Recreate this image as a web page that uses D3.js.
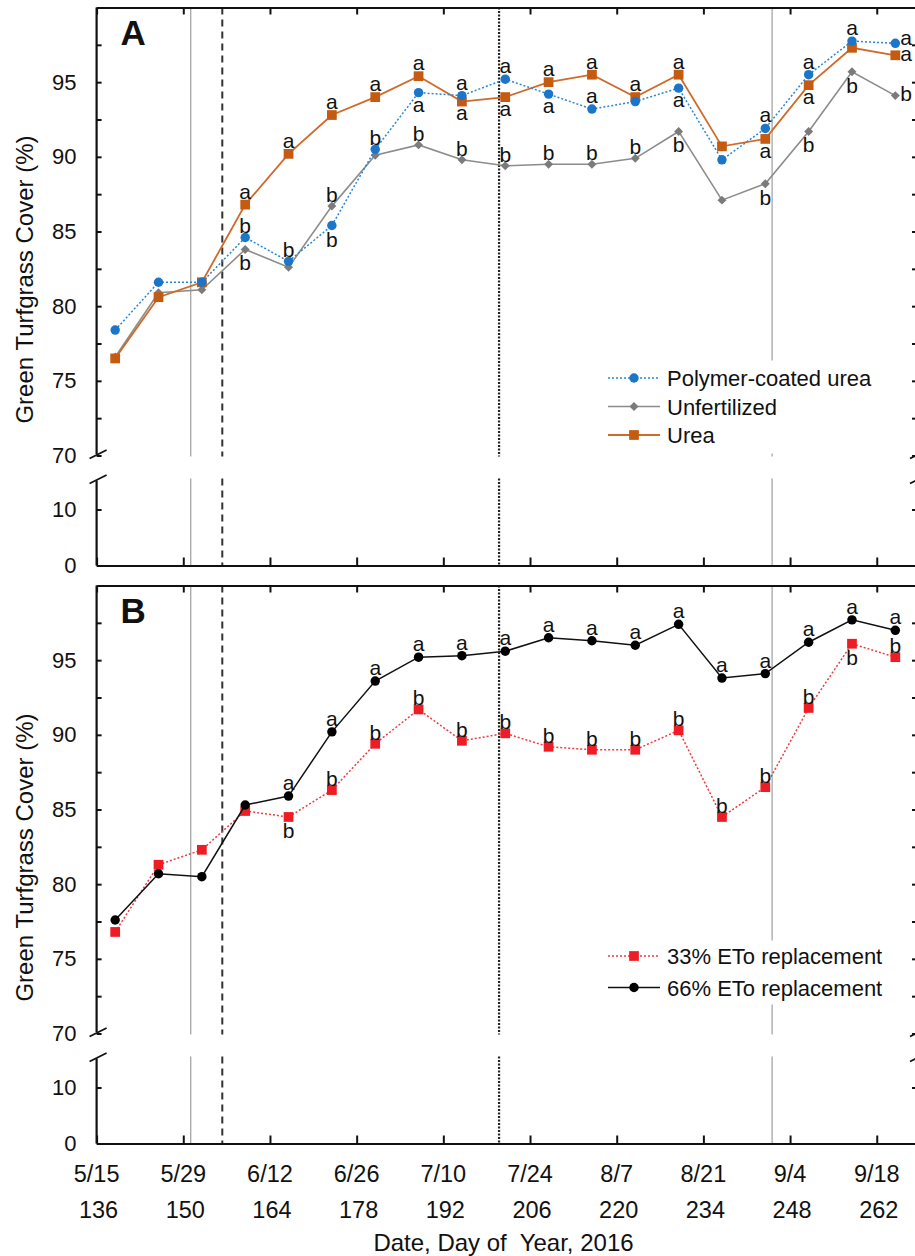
<!DOCTYPE html>
<html lang="en">
<head>
<meta charset="UTF-8">
<title>Green Turfgrass Cover 2016</title>
<script src="https://d3js.org/d3.v7.min.js"></script>
<style>
  body { margin: 0; background: #fff; }
  svg text { font-family: Arial, "Liberation Sans", sans-serif; fill: #111; }
</style>
</head>
<body>
<div id="chart"></div>
<script>
// sampling dates, day of year 2016
const days = [139, 146, 153, 160, 167, 174, 181, 188, 195, 202, 209, 216, 223, 230, 237, 244, 251, 258, 265];

// panel A: nitrogen source
const pcu    = [78.4, 81.6, 81.6, 84.6, 83.0, 85.4, 90.5, 94.3, 94.1, 95.2, 94.2, 93.2, 93.7, 94.6, 89.8, 91.9, 95.5, 97.75, 97.6];
const unfert = [76.6, 80.9, 81.1, 83.8, 82.6, 86.7, 90.1, 90.8, 89.8, 89.4, 89.5, 89.5, 89.9, 91.7, 87.1, 88.2, 91.7, 95.7, 94.1];
const urea   = [76.5, 80.6, 81.6, 86.8, 90.2, 92.8, 94.0, 95.4, 93.7, 94.0, 95.0, 95.5, 94.0, 95.5, 90.7, 91.2, 94.8, 97.3, 96.8];

// mean separation letters (+ above, - below, > right of the point)
const pcuLetters    = ["", "", "", "b+", "b+", "b-", "b+", "a-", "a+", "a+", "a-", "a+", "", "a-", "", "a+", "a+", "a+", "a>"];
const unfertLetters = ["", "", "", "b-", "", "b+", "", "b+", "b+", "b+", "b+", "b+", "b+", "b-", "", "b-", "b-", "b-", "b>"];
const ureaLetters   = ["", "", "", "a+", "a+", "a+", "a+", "a+", "a-", "a-", "a+", "a+", "a+", "a+", "", "a-", "a-", "", "a>"];

// panel B: irrigation level
const eto33 = [76.8, 81.3, 82.3, 84.9, 84.5, 86.3, 89.4, 91.7, 89.6, 90.1, 89.2, 89.0, 89.0, 90.3, 84.5, 86.5, 91.8, 96.1, 95.2];
const eto66 = [77.6, 80.7, 80.5, 85.3, 85.9, 90.2, 93.6, 95.2, 95.3, 95.6, 96.5, 96.3, 96.0, 97.4, 93.8, 94.1, 96.2, 97.7, 97.0];
const eto33Letters = ["", "", "", "", "b-", "b+", "b+", "b+", "b+", "b+", "b+", "b+", "b+", "b+", "b+", "b+", "b+", "b-", "b+"];
const eto66Letters = ["", "", "", "", "a+", "a+", "a+", "a+", "a+", "a+", "a+", "a+", "a+", "a+", "a+", "a+", "a+", "a+", "a+"];

// x axis ticks
const tickDays  = [136, 150, 164, 178, 192, 206, 220, 234, 248, 262];
const tickDates = ["5/15", "5/29", "6/12", "6/26", "7/10", "7/24", "8/7", "8/21", "9/4", "9/18"];

// y axis ticks
const upperTicks = [70, 72.5, 75, 77.5, 80, 82.5, 85, 87.5, 90, 92.5, 95, 97.5];
const lowerTicks = [0, 10];

// reference lines (day of year)
const eventDays = [151.2, 156.3, 201, 245.1];

const W = 915, H = 1256;
const axisX = 96.6, rightX = 917;
const x = d3.scaleLinear().domain([136, 268.5]).range([axisX, rightX]);

const svg = d3.select("#chart").append("svg")
    .attr("width", W)
    .attr("height", H);

const eventStyle = [
    {stroke: "#a6a6a6", width: 1.3, dash: null},
    {stroke: "#333", width: 2, dash: "7,5"},
    {stroke: "#222", width: 2.2, dash: "2,1.5"},
    {stroke: "#a6a6a6", width: 1.3, dash: null}
];

function drawPanel(top, series, panelLabel, legend, isBottom) {
    const yUp = d3.scaleLinear().domain([70, 100]).range([top + 448, top]);
    const yLow = d3.scaleLinear().domain([0, 15]).range([top + 558, top + 474]);
    const g = svg.append("g");

    // vertical reference lines, broken at the axis break
    eventDays.forEach((d, i) => {
        const s = eventStyle[i];
        [[yUp(100), yUp(70) + 1], [yLow(15) - 3, yLow(0)]].forEach(seg => {
            g.append("line")
                .attr("x1", x(d)).attr("x2", x(d))
                .attr("y1", seg[0]).attr("y2", seg[1])
                .attr("stroke", s.stroke)
                .attr("stroke-width", s.width)
                .attr("stroke-dasharray", s.dash);
        });
    });

    // legend background hides the reference line behind it
    const lg = g.append("g");
    lg.append("rect")
        .attr("x", 603).attr("y", top + legend.boxTop)
        .attr("width", legend.boxW).attr("height", legend.boxH)
        .attr("fill", "#fff");

    // axes
    const fmt = d => (d % 5 === 0 ? d : "");
    const leftUp = g.append("g").attr("transform", `translate(${axisX},0)`)
        .call(d3.axisLeft(yUp).tickValues(upperTicks).tickSize(-5).tickPadding(20).tickFormat(fmt));
    const leftLow = g.append("g").attr("transform", `translate(${axisX},0)`)
        .call(d3.axisLeft(yLow).tickValues(lowerTicks).tickSize(-5).tickPadding(20).tickFormat(fmt));
    const rightUp = g.append("g").attr("transform", `translate(${rightX},0)`)
        .call(d3.axisRight(yUp).tickValues(upperTicks).tickSize(-5).tickFormat(""));
    const rightLow = g.append("g").attr("transform", `translate(${rightX},0)`)
        .call(d3.axisRight(yLow).tickValues(lowerTicks).tickSize(-5).tickFormat(""));
    const topAx = g.append("g").attr("transform", `translate(0,${top})`)
        .call(d3.axisTop(x).tickValues(tickDays).tickSize(-7).tickSizeOuter(0).tickFormat(""));
    const botAx = g.append("g").attr("transform", `translate(0,${yLow(0)})`)
        .call(d3.axisBottom(x).tickValues(tickDays).tickSize(-8).tickSizeOuter(0).tickFormat(""));

    [leftUp, leftLow, rightUp, rightLow].forEach(a => a.select(".domain").remove());
    [leftUp, leftLow, rightUp, rightLow, topAx, botAx].forEach(a => {
        a.selectAll("line").attr("stroke", "#111").attr("stroke-width", 2);
        a.selectAll(".domain").attr("stroke", "#111").attr("stroke-width", 2.2);
        a.selectAll("text").style("font-size", "22px").attr("fill", "#111");
    });

    // axis line segments with break marks
    [axisX, rightX].forEach(ax => {
        g.append("line").attr("x1", ax).attr("x2", ax)
            .attr("y1", top).attr("y2", yUp(70) - 1.5)
            .attr("stroke", "#111").attr("stroke-width", 2.2);
        g.append("line").attr("x1", ax).attr("x2", ax)
            .attr("y1", yLow(15) - 1).attr("y2", yLow(0))
            .attr("stroke", "#111").attr("stroke-width", 2.2);
        g.append("path")
            .attr("d", `M${ax - 7},${yUp(70) + 3} L${ax + 10},${yUp(70) - 5.5}`)
            .attr("stroke", "#111").attr("stroke-width", 1.8).attr("fill", "none");
        g.append("path")
            .attr("d", `M${ax - 7},${yLow(15) + 2} L${ax + 10},${yLow(15) - 6.5}`)
            .attr("stroke", "#111").attr("stroke-width", 1.8).attr("fill", "none");
    });

    // series lines and markers
    const line = d3.line().x(d => x(d.day)).y(d => yUp(d.v));
    series.forEach(s => {
        const pts = days.map((day, i) => ({day: day, v: s.values[i], lab: s.letters[i]}));
        g.append("path")
            .datum(pts)
            .attr("d", line)
            .attr("fill", "none")
            .attr("stroke", s.lineColor)
            .attr("stroke-width", s.lineWidth)
            .attr("stroke-dasharray", s.dash);
        g.selectAll(null)
            .data(pts)
            .enter().append("path")
            .attr("d", d3.symbol().type(s.symbol).size(s.size))
            .attr("transform", d => `translate(${x(d.day)},${yUp(d.v)}) rotate(${s.rotate || 0})`)
            .attr("fill", s.color);
    });

    // letters
    series.forEach(s => {
        days.forEach((day, i) => {
            const code = s.letters[i];
            if (!code) return;
            const ch = code[0], pos = code[1];
            const half = ch === "b" ? 7.5 : 5.4;
            const px = x(day), py = yUp(s.values[i]);
            const t = g.append("text").text(ch).style("font-size", "21px");
            if (pos === "+") t.attr("x", px).attr("y", py - 11.5 + half).attr("text-anchor", "middle");
            else if (pos === "-") t.attr("x", px).attr("y", py + 13.5 + half).attr("text-anchor", "middle");
            else t.attr("x", px + 5).attr("y", py + half - 2 + (s.rightShift || 0)).attr("text-anchor", "start");
        });
    });

    // legend entries
    series.slice().sort((a, b) => a.legendOrder - b.legendOrder).forEach((s, i) => {
        const cy = top + legend.firstRow + i * legend.rowStep;
        lg.append("line")
            .attr("x1", 608).attr("x2", 660).attr("y1", cy).attr("y2", cy)
            .attr("stroke", s.lineColor).attr("stroke-width", s.lineWidth)
            .attr("stroke-dasharray", s.dash);
        lg.append("path")
            .attr("d", d3.symbol().type(s.symbol).size(s.size))
            .attr("transform", `translate(634,${cy}) rotate(${s.rotate || 0})`)
            .attr("fill", s.color);
        lg.append("text")
            .attr("x", 667).attr("y", cy + 8)
            .style("font-size", "22px")
            .text(s.name);
    });
    svg.node().appendChild(lg.node());

    // panel letter
    g.append("text")
        .attr("x", axisX + 24).attr("y", top + 37.5)
        .style("font-size", "35px").style("font-weight", "bold")
        .text(panelLabel);

    // y axis title
    g.append("text")
        .attr("transform", `translate(32.5,${top + 272}) rotate(-90)`)
        .attr("text-anchor", "middle")
        .style("font-size", "24px")
        .text("Green Turfgrass Cover (%)");

    if (isBottom) {
        tickDays.forEach((d, i) => {
            g.append("text").attr("x", x(d)).attr("y", top + 596)
                .attr("text-anchor", "middle").style("font-size", "23.5px").text(tickDates[i]);
            g.append("text").attr("x", x(d) + 2).attr("y", top + 632.5)
                .attr("text-anchor", "middle").style("font-size", "23.5px").text(d);
        });
        g.append("text").attr("x", 503.5).attr("y", top + 665.5)
            .attr("text-anchor", "middle").style("font-size", "24px")
            .style("white-space", "pre")
            .text("Date, Day of  Year, 2016");
    }
}

drawPanel(7.5, [
    {name: "Unfertilized", values: unfert, letters: unfertLetters, color: "#7b7b7b", lineColor: "#8c8c8c",
     lineWidth: 1.6, dash: null, symbol: d3.symbolSquare, size: 40, rotate: 45, legendOrder: 1},
    {name: "Urea", values: urea, letters: ureaLetters, color: "#c55a11", lineColor: "#d06a2a",
     lineWidth: 1.8, dash: null, symbol: d3.symbolSquare, size: 95, legendOrder: 2, rightShift: 2},
    {name: "Polymer-coated urea", values: pcu, letters: pcuLetters, color: "#1b75c8", lineColor: "#2a86d6",
     lineWidth: 1.5, dash: "2,2", symbol: d3.symbolCircle, size: 70, legendOrder: 0, rightShift: -2}
], "A", {boxTop: 353, boxW: 277, boxH: 93, firstRow: 370.5, rowStep: 28.5}, false);

drawPanel(585.5, [
    {name: "33% ETo replacement", values: eto33, letters: eto33Letters, color: "#ee1c24", lineColor: "#ef3a40",
     lineWidth: 1.5, dash: "2,2", symbol: d3.symbolSquare, size: 95, legendOrder: 0},
    {name: "66% ETo replacement", values: eto66, letters: eto66Letters, color: "#000", lineColor: "#111",
     lineWidth: 1.5, dash: null, symbol: d3.symbolCircle, size: 70, legendOrder: 1}
], "B", {boxTop: 355, boxW: 302, boxH: 64, firstRow: 370.5, rowStep: 31.5}, true);
</script>
</body>
</html>
